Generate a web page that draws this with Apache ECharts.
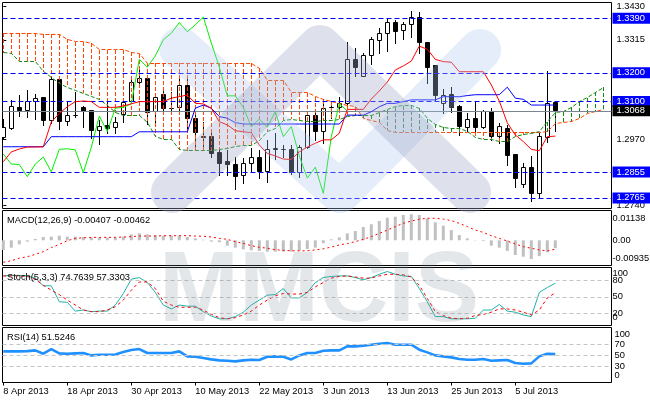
<!DOCTYPE html>
<html><head><meta charset="utf-8">
<script src="https://cdn.jsdelivr.net/npm/echarts@6/dist/echarts.min.js"></script>
<style>html,body{margin:0;padding:0;background:#fff}#c{width:650px;height:400px}</style>
</head><body><div id="c"></div>
<script>
// ---------------- data ----------------
const xTickIdx = [0, 8, 16, 24, 32, 40, 48, 56, 64];
const xTickLabels = ['8 Apr 2013','18 Apr 2013','30 Apr 2013','10 May 2013','22 May 2013','3 Jun 2013','13 Jun 2013','25 Jun 2013','5 Jul 2013'];

const open = [1.2976,1.3007,1.3080,1.3069,1.3100,1.3115,1.3034,1.3178,1.3032,1.3052,
1.3079,1.3069,1.2999,1.3016,1.3011,1.3054,1.3100,1.3167,1.3181,1.3065,
1.3123,1.3077,1.3080,1.3155,1.3042,1.2978,1.2978,1.2923,1.2890,1.2880,
1.2843,1.2883,1.2907,1.2856,1.2935,1.2934,1.2932,1.2853,1.2941,1.3050,
1.2996,1.3079,1.3080,1.3092,1.3245,1.3189,1.3259,1.3312,1.3338,1.3375,
1.3349,1.3367,1.3394,1.3307,1.3224,1.3092,1.3123,1.3083,1.3011,1.3040,
1.3011,1.3065,1.2978,1.3007,1.2915,1.2810,1.2872,1.2781,1.2976,1.3098];
const high = [1.3040,1.3106,1.3123,1.3141,1.3126,1.3116,1.3185,1.3185,1.3100,1.3135,
1.3085,1.3070,1.3036,1.3098,1.3048,1.3106,1.3175,1.3216,1.3187,1.3123,
1.3141,1.3135,1.3189,1.3178,1.3060,1.3030,1.2990,1.2938,1.2932,1.2909,
1.2903,1.2938,1.2932,1.2967,1.2992,1.2949,1.2949,1.2949,1.3051,1.3060,
1.3108,1.3100,1.3115,1.3309,1.3286,1.3268,1.3324,1.3355,1.3390,1.3384,
1.3378,1.3416,1.3413,1.3309,1.3225,1.3143,1.3150,1.3088,1.3060,1.3103,
1.3071,1.3077,1.3027,1.3019,1.2918,1.2886,1.2910,1.2990,1.3208,1.3103];
const low = [1.2969,1.3004,1.3051,1.3046,1.3039,1.3019,1.3027,1.3004,1.3020,1.3048,
1.3013,1.2973,1.2953,1.2990,1.2990,1.3030,1.3098,1.3158,1.3022,1.3022,
1.3060,1.3071,1.3071,1.3007,1.2943,1.2930,1.2909,1.2843,1.2845,1.2795,
1.2818,1.2856,1.2834,1.2822,1.2902,1.2909,1.2848,1.2839,1.2940,1.2967,
1.2955,1.3042,1.3065,1.3090,1.3189,1.3188,1.3231,1.3268,1.3277,1.3304,
1.3317,1.3324,1.3269,1.3164,1.3106,1.3060,1.3065,1.2984,1.2999,1.2999,
1.3007,1.2967,1.2957,1.2880,1.2802,1.2802,1.2756,1.2764,1.2961,1.2999];
const close = [1.3011,1.3083,1.3069,1.3101,1.3112,1.3034,1.3178,1.3030,1.3053,1.3053,
1.3065,1.2999,1.3015,1.3007,1.3028,1.3098,1.3168,1.3181,1.3062,1.3115,
1.3077,1.3076,1.3155,1.3042,1.2992,1.2976,1.2918,1.2883,1.2881,1.2839,
1.2883,1.2907,1.2856,1.2934,1.2936,1.2932,1.2853,1.2941,1.3050,1.2996,
1.3077,1.3080,1.3092,1.3247,1.3220,1.3259,1.3315,1.3338,1.3375,1.3343,
1.3367,1.3394,1.3304,1.3220,1.3120,1.3120,1.3080,1.3013,1.3039,1.3011,
1.3065,1.2978,1.3013,1.2911,1.2834,1.2872,1.2781,1.2978,1.3092,1.3068];

const tenkan = [1.2891,1.2925,1.2935,1.2942,1.2942,1.2943,1.3029,1.3059,1.3082,1.3100,
1.3102,1.3100,1.3080,1.3080,1.3080,1.3085,1.3092,1.3100,1.3100,1.3100,
1.3100,1.3112,1.3117,1.3123,1.3094,1.3092,1.3077,1.3030,1.3019,1.2999,
1.2995,1.2992,1.2949,1.2920,1.2911,1.2900,1.2899,1.2925,1.2942,1.2955,
1.2967,1.2967,1.2990,1.3073,1.3073,1.3073,1.3109,1.3137,1.3168,1.3210,
1.3224,1.3241,1.3293,1.3282,1.3247,1.3239,1.3237,1.3204,1.3204,1.3204,
1.3204,1.3158,1.3102,1.3026,1.2984,1.2961,1.2934,1.2929,1.2978,1.2980];
const kijun = [1.2943,1.2943,1.2943,1.2943,1.2943,1.2943,1.2978,1.2978,1.2978,1.2978,
1.2978,1.2978,1.2978,1.2978,1.2978,1.2978,1.2978,1.2995,1.2995,1.2995,
1.2995,1.2995,1.2995,1.2995,1.3077,1.3088,1.3077,1.3048,1.3042,1.3027,
1.3022,1.3022,1.3022,1.3022,1.3022,1.3022,1.3022,1.3022,1.3022,1.3022,
1.3022,1.3022,1.3022,1.3053,1.3053,1.3053,1.3065,1.3082,1.3094,1.3094,
1.3100,1.3106,1.3106,1.3106,1.3106,1.3117,1.3117,1.3117,1.3121,1.3124,
1.3124,1.3124,1.3124,1.3150,1.3112,1.3108,1.3088,1.3088,1.3088,1.3088];
const spanA = [1.3338,1.3338,1.3338,1.3338,1.3338,1.3335,1.3335,1.3335,1.3317,1.3308,
1.3308,1.3303,1.3280,1.3280,1.3280,1.3280,1.3272,1.3266,1.3233,1.3233,
1.3233,1.3233,1.3233,1.3233,1.3233,1.3233,1.3233,1.3233,1.3233,1.3233,
1.3233,1.3233,1.3216,1.3172,1.3172,1.3172,1.3131,1.3131,1.3131,1.3117,
1.3106,1.3100,1.3094,1.3088,1.3082,1.3042,1.3034,1.3029,1.3001,1.2993,
1.2993,1.2993,1.2993,1.2993,1.2993,1.2993,1.2993,1.2993,1.2993,1.2993,
1.2993,1.2993,1.2993,1.2993,1.2993,1.2993,1.2993,1.2993,1.2995,1.3025,
1.3027,1.3030,1.3042,1.3059,1.3065,1.3071];
const spanB = [1.3270,1.3266,1.3241,1.3241,1.3241,1.3204,1.3185,1.3164,1.3150,1.3140,
1.3129,1.3117,1.3106,1.3088,1.3061,1.3053,1.3050,1.3050,1.3026,1.2978,
1.2969,1.2969,1.2932,1.2929,1.2929,1.2929,1.2929,1.2932,1.2938,1.2943,
1.2946,1.2946,1.2964,1.2995,1.3007,1.3034,1.3039,1.3034,1.3030,1.3030,
1.3033,1.3034,1.3039,1.3048,1.3051,1.3053,1.3053,1.3061,1.3071,1.3082,
1.3085,1.3088,1.3077,1.3040,1.3022,1.3010,1.3007,1.3005,1.2995,1.2976,
1.2969,1.2967,1.2961,1.2961,1.2978,1.2984,1.2990,1.2995,1.3030,1.3063,
1.3064,1.3080,1.3099,1.3114,1.3132,1.3150];

const levels = [1.3390, 1.3200, 1.3100, 1.2855, 1.2765];
const priceTicks = [1.2740, 1.2970, 1.3315, 1.3430];

const macd = [-0.0050,-0.0038,-0.0021,-0.0007,0.0007,0.0017,0.0019,0.0024,0.0019,0.0019,
0.0017,0.0014,0.0014,0.0014,0.0015,0.0019,0.0031,0.0036,0.0031,0.0027,
0.0024,0.0024,0.0024,0.0017,0.0010,0.0003,-0.0007,-0.0010,-0.0028,-0.0038,
-0.0047,-0.0052,-0.0055,-0.0059,-0.0059,-0.0059,-0.0059,-0.0055,-0.0045,-0.0038,
-0.0015,0.0005,0.0015,0.0036,0.0048,0.0069,0.0083,0.0100,0.0117,0.0122,
0.0131,0.0135,0.0131,0.0114,0.0093,0.0076,0.0053,0.0027,0.0010,0.0002,
-0.0004,-0.0028,-0.0038,-0.0055,-0.0076,-0.0085,-0.0097,-0.0082,-0.0062,-0.00407];
const signal = [-0.0114,-0.0106,-0.0093,-0.0085,-0.0073,-0.0059,-0.0038,-0.0021,-0.0002,0.0010,
0.0013,0.0015,0.0015,0.0015,0.0015,0.0017,0.0019,0.0022,0.0022,0.0022,
0.0024,0.0024,0.0024,0.0024,0.0022,0.0021,0.0017,0.0010,0.0005,-0.0007,
-0.0016,-0.0028,-0.0036,-0.0041,-0.0049,-0.0052,-0.0054,-0.0055,-0.0054,-0.0050,
-0.0044,-0.0035,-0.0024,-0.0017,-0.0007,0.0005,0.0019,0.0036,0.0053,0.0071,
0.0088,0.0100,0.0109,0.0114,0.0114,0.0110,0.0102,0.0088,0.0071,0.0053,
0.0041,0.0024,0.0010,-0.0004,-0.0019,-0.0033,-0.0041,-0.0050,-0.0055,-0.00462];
const macdTickVals = [-0.00935, 0, 0.01138];
const macdTickText = ['-0.00935', '0.00', '0.01138'];

const stochK = [88,89,89,88,84,70,70,41,40,24,
26,23,24,24,35,56,82,85,76,58,
35,28,35,33,33,23,15,10,10,14,
22,35,44,53,54,65,48,48,58,76,
85,87,88,88,85,81,85,91,96,91,
88,87,65,41,14,14,10,10,10,11,
26,26,36,24,22,17,14,58,67,74.7639];
const stochD = [88,88,88,87,82,71,62,54,44,35,
26,23,23,26,32,44,62,77,77,65,
42,35,31,31,31,26,18,12,10,12,
17,24,35,44,52,56,55,55,58,68,
76,84,87,88,86,84,84,88,91,91,
90,86,71,47,23,16,11,10,11,16,
18,22,28,28,26,22,17,26,48,57.3303];
const stochLevels = [20, 50, 80];
const stochEnds = [0, 100];

const rsi = [56.6,56.6,56.6,57,58.4,52.4,60.8,53,52.4,53,
53.6,49.3,50.5,50.5,51,55.4,59,60.8,53.6,53.6,
53.6,53.6,56.6,47.5,46.9,44.5,42,40.2,39.6,38.4,
40.2,41.4,40.8,46.9,47.5,46.9,42,49.3,53.6,53.6,
57.8,58.4,58.4,65.7,65.7,66.9,68.7,70.5,71.8,68.7,
68.7,68.7,59.6,54.8,49.3,47.5,45.7,42.6,41.4,41.4,
42.6,39.6,40.2,40.8,35.4,34.2,34.8,47.5,52.4,51.5246];
const rsiLevels = [30, 50, 70];
const rsiEnds = [0, 100];

// ---------------- chart ----------------
const FONT = 'Liberation Sans';
const FS = 9.3;
const N = close.length;
const CHIKOU_SHIFT = 26;
const ORANGE = '#ff4500', GREEN = '#108a10';
const xMin = -0.1, xMax = 76.025;

const pair = arr => arr.map((v, i) => [i, v]);
const candleData = close.map((c, i) => [i, open[i], c, low[i], high[i]]);
const cloudData = spanA.map((a, i) => [i, a, spanB[i]]);
const chikouData = close.slice(CHIKOU_SHIFT).map((v, j) => [j, v]);

function crisp(v) { return Math.round(v - 0.5) + 0.5; }

function renderCandle(params, api) {
  const i = api.value(0), o = api.value(1), c = api.value(2), l = api.value(3), h = api.value(4);
  const pO = api.coord([i, o]), pC = api.coord([i, c]), pL = api.coord([i, l]), pH = api.coord([i, h]);
  const cx = crisp(pO[0]);
  const yT = crisp(Math.min(pO[1], pC[1]));
  const yB = crisp(Math.max(pO[1], pC[1]));
  const bull = c >= o;
  return {type: 'group', children: [
    {type: 'line', shape: {x1: cx, y1: Math.round(pH[1]), x2: cx, y2: Math.round(pL[1]) + 1}, style: {stroke: '#000', lineWidth: 1}},
    {type: 'rect', shape: {x: cx - 2, y: yT, width: 4, height: Math.max(yB - yT, 0)}, style: {fill: bull ? '#fff' : '#000', stroke: '#000', lineWidth: 1}}
  ]};
}
// kumo hatch: one dashed vertical per bar between span A and span B, built from 1px dash rects
function renderCloud(params, api) {
  const i = api.value(0), a = api.value(1), b = api.value(2);
  const pA = api.coord([i, a]), pB = api.coord([i, b]);
  const x = Math.round(pA[0] - 0.5);
  const y0 = Math.round(Math.min(pA[1], pB[1])), y1 = Math.round(Math.max(pA[1], pB[1]));
  const col = a >= b ? ORANGE : GREEN;
  const kids = [];
  for (let y = y0; y < y1; y += 6) {
    kids.push({type: 'rect', shape: {x: x, y: y, width: 1, height: Math.min(4, y1 - y)}, style: {fill: col}});
  }
  return {type: 'group', children: kids};
}
function spanRenderer(values, color) {
  return function (params, api) {
    const pts = values.map((v, i) => { const p = api.coord([i, v]); return [crisp(p[0]), crisp(p[1])]; });
    return {type: 'polyline', shape: {points: pts}, style: {stroke: color, fill: null, lineWidth: 1, lineDash: [4, 2]}};
  };
}

const txt = {color: '#000', fontFamily: FONT, fontSize: FS};
const gridBase = {show: true, borderColor: '#000', borderWidth: 1, left: 2.5, width: 609, containLabel: false, outerBoundsMode: 'none'};
const grids = [
  Object.assign({}, gridBase, {top: 2.5, height: 206}),
  Object.assign({}, gridBase, {top: 210.5, height: 55}),
  Object.assign({}, gridBase, {top: 267.5, height: 58}),
  Object.assign({}, gridBase, {top: 327.5, height: 55})
];
const xAxes = [0, 1, 2, 3].map(k => ({
  type: 'value', gridIndex: k, min: xMin, max: xMax, show: k === 3,
  axisLine: {show: false}, splitLine: {show: false},
  axisTick: {show: k === 3, length: 3, customValues: xTickIdx, lineStyle: {color: '#000'}},
  axisLabel: {show: k === 3, customValues: xTickIdx, align: 'left', margin: 3, lineHeight: 11, hideOverlap: false,
    showMinLabel: true, showMaxLabel: true,
    formatter: v => xTickLabels[xTickIdx.indexOf(Math.round(v))] || '', ...txt}
}));

const yCommon = {type: 'value', position: 'right', splitLine: {show: false}, axisLine: {show: false}};
const endRich = (padTop, padBot) => ({a: {...txt, padding: [padTop, 0, 0, 0]}, b: {...txt, padding: [0, 0, padBot, 0]}});
const endFmt = v => v === 100 ? '{a|100}' : '{b|0}';
const yAxes = [
  Object.assign({}, yCommon, {gridIndex: 0, min: 1.27282, max: 1.34447,
    axisTick: {show: true, length: 3, customValues: priceTicks, lineStyle: {color: '#000'}},
    axisLabel: {customValues: priceTicks, margin: 5, hideOverlap: false, showMinLabel: true, showMaxLabel: true,
      formatter: v => v.toFixed(4), ...txt}}),
  Object.assign({}, yCommon, {gridIndex: 1, min: -0.01306, max: 0.01544,
    axisTick: {show: false},
    axisLabel: {customValues: macdTickVals, margin: 1, hideOverlap: false, showMinLabel: true, showMaxLabel: true,
      formatter: v => macdTickText[macdTickVals.findIndex(t => Math.abs(t - v) < 1e-7)], ...txt}}),
  Object.assign({}, yCommon, {gridIndex: 2, min: -2.18, max: 103.3, axisTick: {show: false},
    axisLabel: {customValues: stochLevels, margin: 1, hideOverlap: false, showMinLabel: true, showMaxLabel: true,
      formatter: v => String(v), ...txt}}),
  Object.assign({}, yCommon, {gridIndex: 3, min: 0, max: 100, axisTick: {show: false},
    axisLabel: {customValues: rsiLevels, margin: 3, hideOverlap: false, showMinLabel: true, showMaxLabel: true,
      formatter: v => String(v), ...txt}}),
  // second label axes for the clamped 0 / 100 labels (they overlap their neighbours like the original)
  Object.assign({}, yCommon, {gridIndex: 2, min: -2.18, max: 103.3, axisTick: {show: false},
    axisLabel: {customValues: stochEnds, margin: 1, hideOverlap: false, showMinLabel: true, showMaxLabel: true,
      formatter: endFmt, rich: endRich(9, 13), ...txt}}),
  Object.assign({}, yCommon, {gridIndex: 3, min: 0, max: 100, axisTick: {show: false},
    axisLabel: {customValues: rsiEnds, margin: 3, hideOverlap: false, showMinLabel: true, showMaxLabel: true,
      formatter: endFmt, rich: endRich(14, 14), ...txt}})
];

const lvlLine = (vals, color, dash) => ({
  silent: true, symbol: 'none', animation: false, precision: 4,
  lineStyle: {color: color, width: 1, type: dash},
  label: {show: false}, emphasis: {disabled: true},
  data: vals.map(v => ({yAxis: v}))
});
const boxLabel = bg => ({show: true, position: 'end', distance: 1, formatter: p => Number(p.value).toFixed(4),
  color: '#fff', backgroundColor: bg, padding: [1, 9, 0, 4], lineHeight: 10, fontFamily: FONT, fontSize: FS});

const line = (x, y, data, color, width, type, z) => ({
  type: 'line', xAxisIndex: x, yAxisIndex: y, data: data, showSymbol: false, symbol: 'none',
  lineStyle: {color: color, width: width, type: type}, itemStyle: {color: color},
  z: z || 4, silent: true, animation: false, clip: true
});

const levelSeries = line(0, 0, [], '#0000ff', 1, 'solid', 3);
levelSeries.markLine = Object.assign(lvlLine(levels, '#0000ff', [5, 3]), {label: boxLabel('#0000ff')});
const curSeries = line(0, 0, [], '#778899', 1, 'solid', 3);
curSeries.markLine = Object.assign(lvlLine([close[N - 1]], '#7a8590', 'solid'), {label: boxLabel('#000000')});

const kSeries = line(2, 2, pair(stochK), '#20b2aa', 1, 'solid');
kSeries.markLine = lvlLine(stochLevels, '#c4c4c4', [4, 3]);
const rsiSeries = line(3, 3, pair(rsi), '#1e90ff', 2.6, 'solid');
rsiSeries.markLine = lvlLine(rsiLevels, '#c4c4c4', [4, 3]);

const titleStyle = {fontSize: FS, fontWeight: 'normal', color: '#000', fontFamily: FONT, lineHeight: 11};

const option = {
  animation: false,
  backgroundColor: '#ffffff',
  grid: grids,
  xAxis: xAxes,
  yAxis: yAxes,
  title: [
    {text: 'MACD(12,26,9) ' + macd[N - 1].toFixed(5) + ' ' + signal[N - 1].toFixed(5), left: 7, top: 215, padding: 0, textStyle: titleStyle},
    {text: 'Stoch(5,3,3) ' + stochK[N - 1].toFixed(4) + ' ' + stochD[N - 1].toFixed(4), left: 7, top: 272, padding: 0, textStyle: titleStyle},
    {text: 'RSI(14) ' + rsi[N - 1].toFixed(4), left: 7, top: 332, padding: 0, textStyle: titleStyle}
  ],
  series: [
    {type: 'custom', xAxisIndex: 0, yAxisIndex: 0, data: candleData, renderItem: renderCandle,
      encode: {x: 0, y: [1, 2, 3, 4]}, z: 2, clip: true, silent: true, animation: false},
    levelSeries,
    {type: 'custom', xAxisIndex: 0, yAxisIndex: 0, data: cloudData, renderItem: renderCloud,
      encode: {x: 0, y: [1, 2]}, z: 4, clip: true, silent: true, animation: false},
    {type: 'custom', xAxisIndex: 0, yAxisIndex: 0, data: [[0, spanA[0]]], renderItem: spanRenderer(spanA, ORANGE),
      encode: {x: 0, y: 1}, z: 4, clip: true, silent: true, animation: false},
    {type: 'custom', xAxisIndex: 0, yAxisIndex: 0, data: [[0, spanB[0]]], renderItem: spanRenderer(spanB, GREEN),
      encode: {x: 0, y: 1}, z: 4, clip: true, silent: true, animation: false},
    line(0, 0, chikouData, '#00f000', 1, 'solid', 5),
    line(0, 0, pair(kijun), '#0000ff', 1, 'solid', 5),
    line(0, 0, pair(tenkan), '#ff0000', 1, 'solid', 5),
    curSeries,
    {type: 'bar', xAxisIndex: 1, yAxisIndex: 1, data: pair(macd), barWidth: 3,
      itemStyle: {color: '#c0c0c0'}, silent: true, animation: false, z: 2},
    line(1, 1, pair(signal), '#ff0000', 1, [2, 3]),
    kSeries,
    line(2, 2, pair(stochD), '#ff0000', 1, [3, 3]),
    rsiSeries
  ],
  graphic: [
    {type: 'polyline', z: 100, silent: true, shape: {points: [[180, 48], [340, 192], [480, 50]]},
      style: {stroke: 'rgba(170,200,235,0.32)', lineWidth: 42, lineCap: 'round', lineJoin: 'round', fill: null}},
    {type: 'polyline', z: 101, silent: true, shape: {points: [[172, 192], [320, 46], [470, 192]]},
      style: {stroke: 'rgba(160,168,200,0.35)', lineWidth: 42, lineCap: 'round', lineJoin: 'round', fill: null}},
    {type: 'text', z: 102, silent: true, x: 159, y: 293, scaleX: 0.96,
      style: {text: 'MMCIS', font: 'bold 100px "Liberation Sans"', fill: 'rgba(120,135,150,0.2)', align: 'left', verticalAlign: 'middle'}}
  ]
};

const chart = echarts.init(document.getElementById('c'), null, {renderer: 'canvas', width: 650, height: 400});
chart.setOption(option);
</script>
</body></html>
